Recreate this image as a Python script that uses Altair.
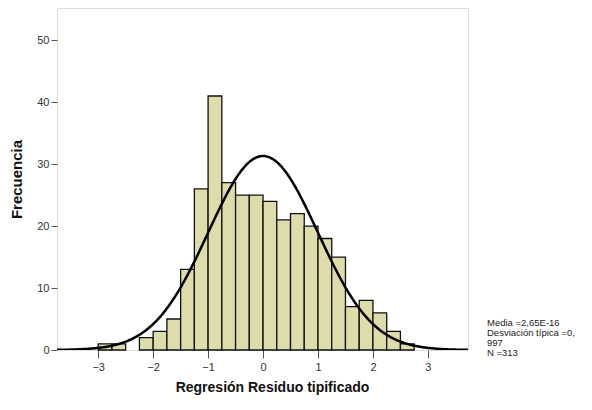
import altair as alt
import pandas as pd
import numpy as np

# Histogram data (bin width 0.25)
bin_starts = [-3.0, -2.75, -2.5, -2.25, -2.0, -1.75, -1.5, -1.25, -1.0, -0.75,
              -0.5, -0.25, 0.0, 0.25, 0.5, 0.75, 1.0, 1.25, 1.5, 1.75,
              2.0, 2.25, 2.5]
counts = [1, 1, 0, 2, 3, 5, 13, 26, 41, 27,
          25, 25, 24, 21, 22, 20, 18, 15, 7, 8,
          6, 3, 1]
bin_width = 0.25
mean = 2.65e-16
sd = 0.997
n = 313
stats_lines = ["Media =2,65E-16", "Desviación típica =0,", "997", "N =313"]
x_ticks = [-3, -2, -1, 0, 1, 2, 3]
y_ticks = [0, 10, 20, 30, 40, 50]

x_dom = [-3.75, 3.73]
y_dom = [0, 55.2]

bars = pd.DataFrame({
    "x": bin_starts,
    "x2": [b + bin_width for b in bin_starts],
    "y": counts,
})
bars = bars[bars["y"] > 0]

xs = np.linspace(x_dom[0], x_dom[1], 300)
curve = pd.DataFrame({
    "x": xs,
    "y": n * bin_width * np.exp(-0.5 * ((xs - mean) / sd) ** 2) / (sd * np.sqrt(2 * np.pi)),
})

FONT = "Liberation Sans"

xscale = alt.Scale(domain=x_dom, nice=False, zero=False)
yscale = alt.Scale(domain=y_dom, nice=False)

x_axis = alt.Axis(values=x_ticks, format="d", title="Regresión Residuo tipificado", grid=False,
                  tickSize=8, tickColor="#555", labelPadding=3, labelFontSize=11,
                  labelColor="#333", labelFont=FONT, titleFont=FONT, titleFontSize=14,
                  titleFontWeight="bold", titleColor="#111", titlePadding=8,
                  domain=False, titleX=215)
y_axis = alt.Axis(values=y_ticks, title="Frecuencia", grid=False, tickSize=6,
                  tickColor="#555", labelPadding=2, labelFontSize=11, labelColor="#333",
                  labelFont=FONT, titleFont=FONT, titleFontSize=15, titleFontWeight="bold",
                  titleColor="#111", titlePadding=12, domain=False)

hist = alt.Chart(bars).mark_rect(fill="#dddcaa", stroke="#111", strokeWidth=1.3).encode(
    x=alt.X("x:Q", scale=xscale, axis=x_axis),
    x2="x2:Q",
    y=alt.Y("y:Q", scale=yscale, axis=y_axis),
    y2=alt.datum(0),
)

line = alt.Chart(curve).mark_line(color="#000", strokeWidth=2.5, clip=True).encode(
    x=alt.X("x:Q", scale=xscale),
    y=alt.Y("y:Q", scale=yscale),
)

txt = alt.Chart(pd.DataFrame({"t": ["\n".join(stats_lines)]})).mark_text(
    align="left", baseline="top", fontSize=9.5, font=FONT, color="#222",
    lineBreak="\n", lineHeight=10,
).encode(
    text="t:N",
    x=alt.value(430),
    y=alt.value(310),
)

chart = alt.layer(hist, line, txt).properties(
    width=411, height=342,
    autosize=alt.AutoSizeParams(type="none"),
    padding={"left": 49, "top": 0, "right": 115, "bottom": 50},
).configure_view(fill="#efefef", stroke="#555", strokeWidth=1.2).configure(background="white")

chart.save("out.html", embed_options={"renderer": "svg", "actions": False})
